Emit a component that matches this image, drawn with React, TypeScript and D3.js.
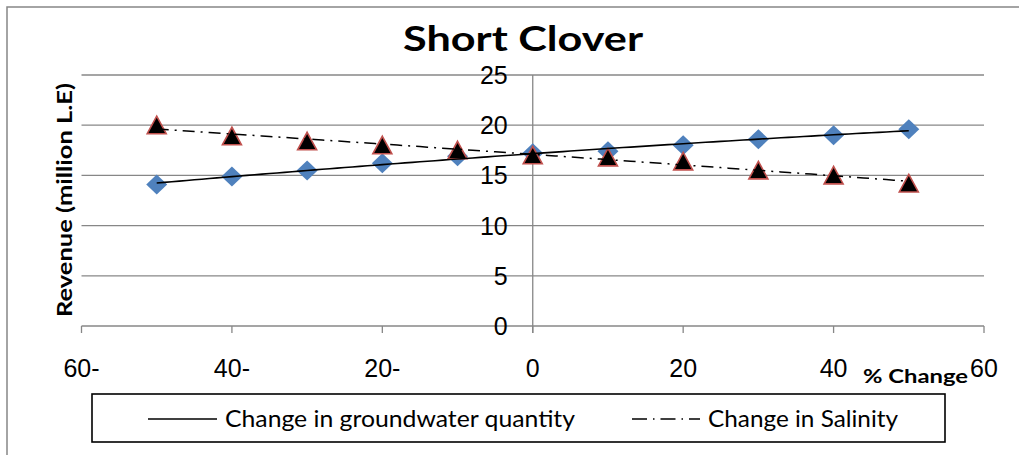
import React from "react";
import * as d3 from "d3";

const pctChange = [-50, -40, -30, -20, -10, 0, 10, 20, 30, 40, 50];
const groundwaterRevenue = [14.1, 14.9, 15.5, 16.2, 16.9, 17.2, 17.4, 18.0, 18.6, 19.0, 19.6];
const salinityRevenue = [20.0, 18.9, 18.4, 18.0, 17.5, 17.0, 16.8, 16.4, 15.5, 15.0, 14.2];
const xTicks = [-60, -40, -20, 0, 20, 40, 60];
const xTickLabels = ["60-", "40-", "20-", "0", "20", "40", "60"];
const yTicks = [0, 5, 10, 15, 20, 25];
const seriesNames = ["Change in groundwater quantity", "Change in Salinity"];
const chartTitle = "Short Clover";
const yAxisTitle = "Revenue (million L.E)";
const xAxisTitle = "% Change";

// least-squares 2nd-order polynomial (Excel polynomial trendline)
function quadFit(xs: number[], ys: number[]) {
  const n = xs.length;
  let s1 = 0, s2 = 0, s3 = 0, s4 = 0, t0 = 0, t1 = 0, t2 = 0;
  for (let i = 0; i < n; i++) {
    const x = xs[i], y = ys[i];
    s1 += x; s2 += x * x; s3 += x * x * x; s4 += x * x * x * x;
    t0 += y; t1 += x * y; t2 += x * x * y;
  }
  const M = [
    [n, s1, s2],
    [s1, s2, s3],
    [s2, s3, s4],
  ];
  const det3 = (m: number[][]) =>
    m[0][0] * (m[1][1] * m[2][2] - m[1][2] * m[2][1]) -
    m[0][1] * (m[1][0] * m[2][2] - m[1][2] * m[2][0]) +
    m[0][2] * (m[1][0] * m[2][1] - m[1][1] * m[2][0]);
  const D = det3(M);
  const rhs = [t0, t1, t2];
  const coef = [0, 1, 2].map((c) => {
    const m = M.map((row, r) => row.map((v, k) => (k === c ? rhs[r] : v)));
    return det3(m) / D;
  });
  return (x: number) => coef[0] + coef[1] * x + coef[2] * x * x;
}

const W = 1019;
const H = 455;
const GRID = "#878787";
const BLUE = "#4F81BD";
const RED = "#C0504D";
const TXT = "Lato, 'Open Sans', sans-serif";
const NUM = "'Liberation Sans', Arial, sans-serif";

export default function App() {
  const x = d3.scaleLinear().domain([-60, 60]).range([81.5, 984]);
  const y = d3.scaleLinear().domain([0, 25]).range([326, 75]);

  const gwFit = quadFit(pctChange, groundwaterRevenue);
  const salFit = quadFit(pctChange, salinityRevenue);
  const xs = d3.range(pctChange[0], pctChange[pctChange.length - 1] + 0.001, 1);
  const gwPath = d3.line<number>().x((d) => x(d)).y((d) => y(gwFit(d)))(xs) || "";
  const salPath = d3.line<number>().x((d) => x(d)).y((d) => y(salFit(d)))(xs) || "";

  const diamond = (cx: number, cy: number) => {
    const p = d3.path();
    p.moveTo(cx, cy - 10);
    p.lineTo(cx + 10.5, cy);
    p.lineTo(cx, cy + 10);
    p.lineTo(cx - 10.5, cy);
    p.closePath();
    return p.toString();
  };
  const triangle = (cx: number, cy: number) => {
    const p = d3.path();
    p.moveTo(cx, cy - 9);
    p.lineTo(cx + 9.5, cy + 8.5);
    p.lineTo(cx - 9.5, cy + 8.5);
    p.closePath();
    return p.toString();
  };

  const dashDot = "12,6,2,6";

  return (
    <svg
      width={W}
      height={H}
      style={{ position: "absolute", left: 0, top: 0, display: "block", background: "#fff" }}
    >
      <rect x={7} y={7} width={W + 10} height={H + 10} fill="#fff" stroke={GRID} strokeWidth={1.5} />

      {/* title */}
      <text
        x={523}
        y={51}
        textAnchor="middle"
        fontFamily={TXT}
        fontWeight={700}
        fontSize={34}
        textLength={240}
        lengthAdjust="spacingAndGlyphs"
        fill="#000"
      >
        {chartTitle}
      </text>

      {/* gridlines */}
      {yTicks.map((t) => (
        <line key={"g" + t} x1={x(-60)} x2={x(60)} y1={y(t)} y2={y(t)} stroke={GRID} strokeWidth={1.3} />
      ))}
      {/* y axis at x=0 */}
      <line x1={x(0)} x2={x(0)} y1={y(25)} y2={y(0) + 7} stroke={GRID} strokeWidth={1.3} />
      {/* x ticks */}
      {xTicks.map((t) => (
        <line key={"xt" + t} x1={x(t)} x2={x(t)} y1={y(0)} y2={y(0) + 7} stroke={GRID} strokeWidth={1.3} />
      ))}

      {/* y tick labels */}
      {yTicks.map((t) => (
        <text
          key={"yl" + t}
          x={x(0) - 25}
          y={y(t) + 9}
          textAnchor="end"
          fontFamily={NUM}
          fontSize={25}
          fill="#000"
        >
          {t}
        </text>
      ))}
      {/* x tick labels */}
      {xTicks.map((t, i) => (
        <text
          key={"xl" + t}
          x={x(t)}
          y={377}
          textAnchor="middle"
          fontFamily={NUM}
          fontSize={25}
          fill="#000"
        >
          {xTickLabels[i]}
        </text>
      ))}

      {/* axis titles */}
      <text
        x={863}
        y={383}
        fontFamily={TXT}
        fontWeight={700}
        fontSize={19}
        textLength={105}
        lengthAdjust="spacingAndGlyphs"
        fill="#000"
      >
        {xAxisTitle}
      </text>
      <text
        transform={`translate(72,${200}) rotate(-90)`}
        textAnchor="middle"
        fontFamily={TXT}
        fontWeight={700}
        fontSize={21}
        textLength={234}
        lengthAdjust="spacingAndGlyphs"
        fill="#000"
      >
        {yAxisTitle}
      </text>

      {/* markers */}
      {pctChange.map((p, i) => (
        <path key={"d" + p} d={diamond(x(p), y(groundwaterRevenue[i]))} fill={BLUE} />
      ))}
      {pctChange.map((p, i) => (
        <path
          key={"t" + p}
          d={triangle(x(p), y(salinityRevenue[i]))}
          fill="#000"
          stroke={RED}
          strokeWidth={1.6}
          strokeLinejoin="miter"
        />
      ))}

      {/* trend lines */}
      <path d={gwPath} fill="none" stroke="#000" strokeWidth={1.6} />
      <path d={salPath} fill="none" stroke="#000" strokeWidth={1.5} strokeDasharray={dashDot} />

      {/* legend */}
      <rect x={92} y={394} width={853} height={48} fill="#fff" stroke="#000" strokeWidth={1.6} />
      <line x1={148} x2={217} y1={419} y2={419} stroke="#000" strokeWidth={1.5} />
      <text
        x={225}
        y={427}
        fontFamily={TXT}
        fontSize={23}
        textLength={350}
        lengthAdjust="spacingAndGlyphs"
        fill="#000"
      >
        {seriesNames[0]}
      </text>
      <line x1={632} x2={700} y1={419} y2={419} stroke="#000" strokeWidth={1.5} strokeDasharray="15,6,1.5,6" />
      <text
        x={708}
        y={427}
        fontFamily={TXT}
        fontSize={23}
        textLength={190}
        lengthAdjust="spacingAndGlyphs"
        fill="#000"
      >
        {seriesNames[1]}
      </text>
    </svg>
  );
}
